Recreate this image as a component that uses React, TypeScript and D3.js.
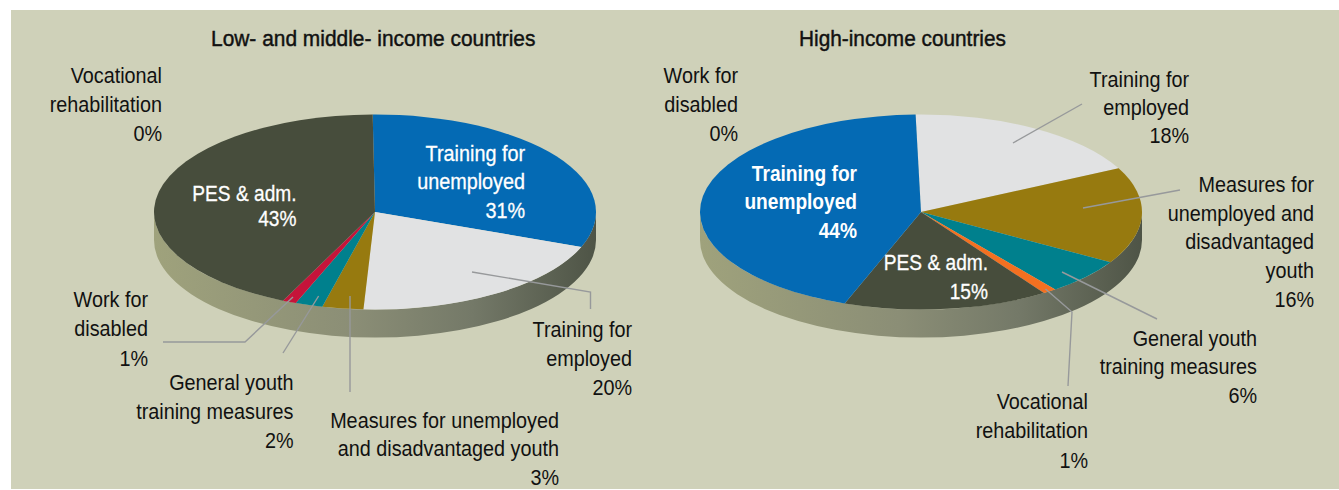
import React from 'react';
import * as d3 from 'd3';

const width = 1339;
const height = 490;

// Low- and middle-income countries, clockwise from the top
const lowCategories = ['Training for unemployed', 'Training for employed', 'Measures for unemployed and disadvantaged youth', 'General youth training measures', 'Work for disabled', 'PES & adm.', 'Vocational rehabilitation'];
const lowValues = [31, 20, 3, 2, 1, 43, 0];
const lowColors = ['#046ab4', '#e1e2e3', '#977a0f', '#00808d', '#c5143a', '#474d3c', '#f37021'];

// High-income countries, clockwise from the top
const highCategories = ['Training for employed', 'Measures for unemployed and disadvantaged youth', 'General youth training measures', 'Vocational rehabilitation', 'PES & adm.', 'Training for unemployed', 'Work for disabled'];
const highValues = [18, 16, 6, 1, 15, 44, 0];
const highColors = ['#e1e2e3', '#977a0f', '#00808d', '#f37021', '#474d3c', '#046ab4', '#c5143a'];

// label wrapping, same order as the categories above
const lowLines = [['Training for', 'unemployed'], ['Training for', 'employed'], ['Measures for unemployed', 'and disadvantaged youth'], ['General youth', 'training measures'], ['Work for', 'disabled'], ['PES & adm.'], ['Vocational', 'rehabilitation']];
const highLines = [['Training for', 'employed'], ['Measures for', 'unemployed and', 'disadvantaged', 'youth'], ['General youth', 'training measures'], ['Vocational', 'rehabilitation'], ['PES & adm.'], ['Training for', 'unemployed'], ['Work for', 'disabled']];

// right edge + first baseline of every label block
const lowLabelPos = [[525, 161], [632, 337], [559, 428], [293.5, 390], [148, 307], [296.5, 201], [162, 83]];
const highLabelPos = [[1189, 87], [1314, 192], [1257, 346], [1088, 409], [988, 270], [857, 181], [738, 83]];
const lowLineGap = [28.5, 29, 28.5, 29, 29.5, 25, 29];
const highLineGap = [28, 28.7, 28.5, 29.5, 29, 28.5, 29];

const lowLeaders = [
  [[472, 272], [590.5, 292], [590.5, 309]],
  [[350, 296], [350, 392]],
  [[318.6, 296], [283, 353]],
  [[293, 297], [245, 342], [163, 342]],
];
const highLeaders = [
  [[1082, 104], [1013, 143]],
  [[1180, 190], [1083, 208]],
  [[1062, 272], [1157, 319]],
  [[1045.5, 289], [1072, 312], [1068, 386]],
];

// no narrow face installed, so the regular one is squeezed sideways
const FONT = '"Liberation Sans", sans-serif';
const NARROW = 0.88;
const rx = 221;
const ry = 97.5;
const depth = 28;
const leaderLine = d3.line();

function Pie({ cx, cy, values, colors, startDeg }: any) {
  const pie = d3.pie<number>().sort(null)
    .startAngle((startDeg * Math.PI) / 180)
    .endAngle(((startDeg + 360) * Math.PI) / 180);
  const arc = d3.arc<d3.PieArcDatum<number>>().innerRadius(0).outerRadius(rx);
  const wall = `M${cx - rx},${cy} L${cx - rx},${cy + depth} A${rx},${ry} 0 0 0 ${cx + rx},${cy + depth} L${cx + rx},${cy} A${rx},${ry} 0 0 1 ${cx - rx},${cy} Z`;
  return (
    <g>
      <path d={wall} fill="url(#wall)" />
      <g transform={`translate(${cx},${cy}) scale(1,${ry / rx})`}>
        {pie(values).map((d, i) => (
          <path key={i} d={arc(d) || ''} fill={colors[i]} />
        ))}
      </g>
    </g>
  );
}

function Labels({ lines, values, pos, gaps, whites, bold }: any) {
  return lines.map((block: string[], i: number) => {
    const all = [...block, `${values[i]}%`];
    const white = whites.includes(i);
    const isBold = bold === i;
    const isPes = block[0] === 'PES & adm.';
    return (
      <text key={i} textAnchor="end" fontFamily={FONT} fontSize={22.5}
        transform={`translate(${pos[i][0]},0) scale(${isBold ? 0.85 : isPes ? 0.85 : NARROW},1)`}
        fill={white ? '#fff' : '#111'} fontWeight={isBold ? 700 : 400}
        stroke={white && !isBold ? '#fff' : 'none'} strokeWidth={0.3}>
        {all.map((t, j) => (
          <tspan key={j} x={0} y={pos[i][1] + j * gaps[i]}>{t}</tspan>
        ))}
      </text>
    );
  });
}

export default function App() {
  return (
    <svg width={width} height={height} style={{ position: 'absolute', left: 0, top: 0, display: 'block' }}>
      <defs>
        <linearGradient id="wall" x1="0" x2="1" y1="0" y2="0">
          <stop offset="0" stopColor="#9fa27c" />
          <stop offset="0.45" stopColor="#8b8e76" />
          <stop offset="0.72" stopColor="#747968" />
          <stop offset="1" stopColor="#4e5446" />
        </linearGradient>
      </defs>
      <rect x={0} y={0} width={width} height={height} fill="#fff" />
      <rect x={11} y={10} width={width - 11} height={479} fill="#cfd1b9" />

      <Pie cx={375} cy={212} values={lowValues} colors={lowColors} startDeg={-0.6} />
      <Pie cx={921} cy={212} values={highValues} colors={highColors} startDeg={-1.4} />

      {[...lowLeaders, ...highLeaders].map((pts, i) => (
        <path key={i} d={leaderLine(pts as [number, number][]) || ''} fill="none" stroke="#97999b" strokeWidth={1.4} />
      ))}

      <text transform="translate(211,46) scale(0.93,1)" fontFamily={FONT} fontSize={22.5} fill="#111" stroke="#111" strokeWidth={0.45}>Low- and middle- income countries</text>
      <text transform="translate(799,46) scale(0.925,1)" fontFamily={FONT} fontSize={22.5} fill="#111" stroke="#111" strokeWidth={0.45}>High-income countries</text>

      <Labels lines={lowLines} values={lowValues} pos={lowLabelPos} gaps={lowLineGap} whites={[0, 5]} />
      <Labels lines={highLines} values={highValues} pos={highLabelPos} gaps={highLineGap} whites={[4, 5]} bold={5} />
    </svg>
  );
}
